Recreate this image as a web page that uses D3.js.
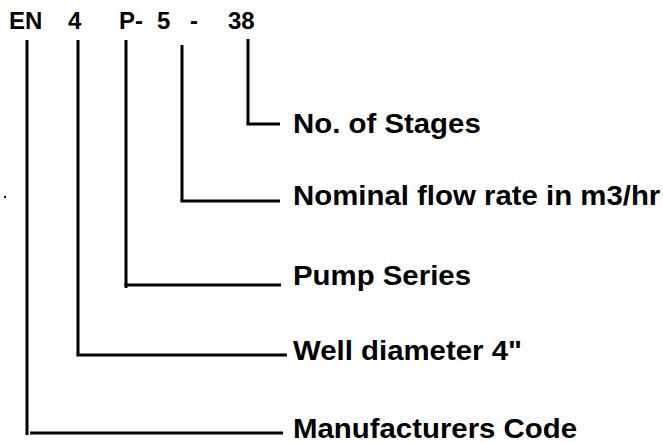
<!DOCTYPE html>
<html>
<head>
<meta charset="utf-8">
<script src="https://cdn.jsdelivr.net/npm/d3@7"></script>
<style>
  html, body { margin: 0; padding: 0; background: #fff; }
  svg { display: block; }
</style>
</head>
<body>
<svg id="chart" width="663" height="443"></svg>
<script>
// ---- data ----
const codeParts = ["EN", "4", "P-", "5", "-", "38"];
const labels = ["No. of Stages", "Nominal flow rate in m3/hr", "Pump Series", "Well diameter 4\"", "Manufacturers Code"];
// which code part each label (top to bottom) refers to
const labelRefs = ["38", "5", "P-", "4", "EN"];

// ---- layout ----
const W = 663, H = 443;
const headerX = {"EN": 9, "4": 68, "P-": 119, "5": 157, "-": 190, "38": 228};
const leaderX = {"EN": 27, "4": 78, "P-": 126, "5": 182, "38": 248};
const leaderTop = {"EN": 40, "4": 40, "P-": 40, "5": 45, "38": 39};
const rowLineY = [124, 201, 285, 355, 433];
const rowTextY = [133, 205, 285, 360, 438];
const lineEndX = [280, 280, 281, 287, 283];
const labelX = 293;
const stretch = 1.05;

const svg = d3.select("#chart");
const font = "'Liberation Sans', Arial, Helvetica, sans-serif";

const row = d3.scaleOrdinal().domain(labels).range(d3.range(labels.length));

// header code
svg.append("g").selectAll("text").data(codeParts).join("text")
  .attr("x", d => headerX[d]).attr("y", 29)
  .attr("font-family", font).attr("font-weight", "bold").attr("font-size", 24)
  .attr("fill", "#000").text(d => d);

// leader lines
const g = svg.append("g").attr("fill", "none").attr("stroke", "#000").attr("stroke-width", 3);
labels.forEach((lab, i) => {
  const ref = labelRefs[i];
  const x = leaderX[ref];
  const y = rowLineY[row(lab)];
  const ext = ref === "P-" ? 3 : (ref === "EN" ? 2 : 0);
  g.append("line").attr("x1", x).attr("x2", x).attr("y1", leaderTop[ref]).attr("y2", y + ext);
  const startX = ref === "EN" ? x + 3 : x - 1.5;
  g.append("line").attr("x1", startX).attr("x2", lineEndX[i]).attr("y1", y).attr("y2", y);
});

// labels
svg.append("g").selectAll("text").data(labels).join("text")
  .attr("transform", d => `translate(${labelX},${rowTextY[row(d)]}) scale(${stretch},1)`)
  .attr("font-family", font).attr("font-weight", "bold").attr("font-size", 28)
  .attr("fill", "#000").text(d => d);

// stray dot
svg.append("rect").attr("x", 4).attr("y", 196).attr("width", 2).attr("height", 2).attr("fill", "#000");
</script>
</body>
</html>
